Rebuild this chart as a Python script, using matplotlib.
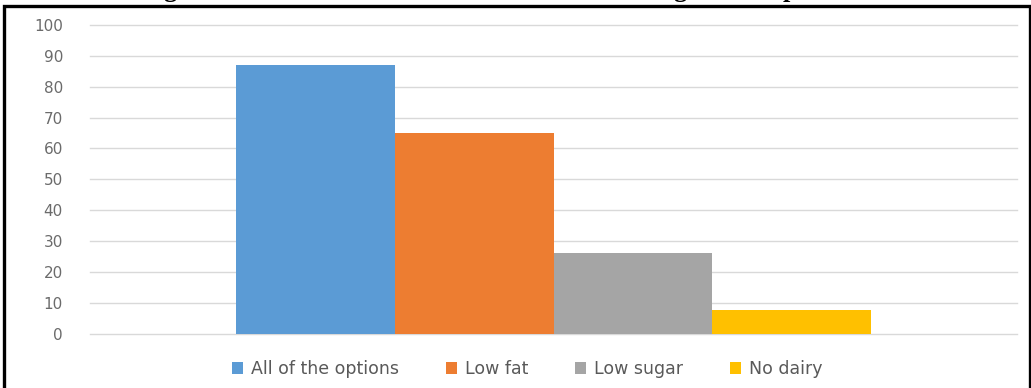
import matplotlib
matplotlib.use("Agg")
import matplotlib.pyplot as plt
from matplotlib.patches import Rectangle

# Share of respondents choosing each option
series = ["All of the options", "Low fat", "Low sugar", "No dairy"]
values = [87.0, 64.9, 26.0, 7.6]
colors = ["#5B9BD5", "#ED7D31", "#A5A5A5", "#FFC000"]
yticks = [0, 10, 20, 30, 40, 50, 60, 70, 80, 90, 100]

W, H = 1031, 388
fig = plt.figure(figsize=(W / 100, H / 100), dpi=100)
fig.patch.set_facecolor("white")

ax = fig.add_axes([90 / W, 1 - 333.5 / H, (1017 - 90) / W, (333.5 - 25) / H])

bar_w = 0.171
n = len(series)
for i, (name, v, c) in enumerate(zip(series, values, colors)):
    x = (i - (n - 1) / 2) * bar_w
    ax.bar(x, v, width=bar_w, color=c, label=name, zorder=3)

ax.set_xlim(-0.5, 0.5)
ax.set_ylim(0, 100)
ax.set_yticks(yticks)
ax.set_xticks([])
ax.yaxis.grid(True, color="#d9d9d9", linewidth=1.0, zorder=0)
ax.set_axisbelow(True)
for gl in ax.get_ygridlines():
    gl.set_clip_on(False)
for s in ax.spines.values():
    s.set_visible(False)
ax.tick_params(axis="y", length=0, pad=19.5, labelsize=11, labelcolor="#6b6b6b")
for lab in ax.get_yticklabels():
    lab.set_fontfamily("DejaVu Sans")

leg = fig.legend(loc="center", bbox_to_anchor=(527 / W, 1 - 369 / H), ncol=4,
                 frameon=False, handlelength=0.65, handleheight=0.65,
                 handletextpad=0.45, columnspacing=2.7,
                 prop={"family": "DejaVu Sans", "size": 12.5})
for t in leg.get_texts():
    t.set_color("#595959")

# Descenders of the caption running off the top edge
for ch, xp in [("g", 170), ("g", 680), ("p", 790)]:
    fig.text(xp / W, 1 + 3.5 / H, ch, ha="center", va="baseline",
             fontsize=19, fontweight="bold", family="Liberation Serif", color="black")

# Black frame around the chart
fig.patches.append(Rectangle((3.5 / W, -0.2), (1029.5 - 3.5) / W, 1.2 - 5.5 / H,
                             transform=fig.transFigure, fill=False,
                             edgecolor="black", linewidth=2.4))

fig.savefig("out.png", dpi=100, facecolor="white")
